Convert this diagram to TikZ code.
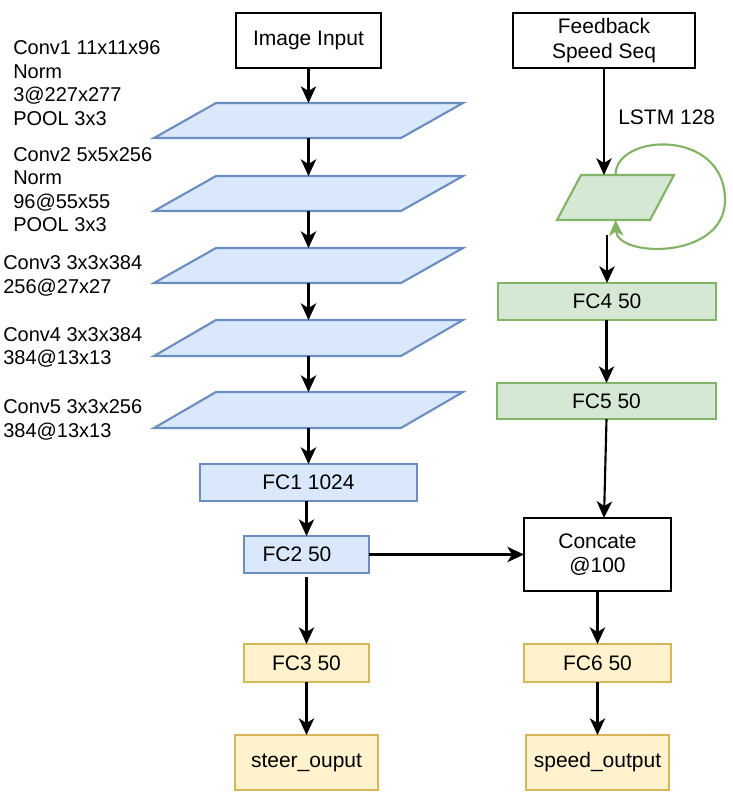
\documentclass[tikz,border=0pt]{standalone}
\usepackage{fontspec}
\setmainfont{Liberation Sans}
\usetikzlibrary{arrows.meta,calc}
\definecolor{bluefill}{HTML}{DAE8FC}
\definecolor{bluedraw}{HTML}{6C8EBF}
\definecolor{greenfill}{HTML}{D5E8D4}
\definecolor{greendraw}{HTML}{82B366}
\definecolor{yellowfill}{HTML}{FFF2CC}
\definecolor{yellowdraw}{HTML}{D6B656}
\newdimen\pxu
\pxu=0.75pt
\begin{document}
\begin{tikzpicture}[x=0.75pt,y=-0.75pt,
  basebox/.style={rectangle, inner sep=0pt, outer sep=0pt, line width=1.6pt, align=center,
    font=\fontsize{15.75}{18.5}\selectfont},
  plainbox/.style={basebox, draw=black, fill=white},
  bluebox/.style={basebox, draw=bluedraw, fill=bluefill},
  greenbox/.style={basebox, draw=greendraw, fill=greenfill},
  yellowbox/.style={basebox, draw=yellowdraw, fill=yellowfill},
  slot/.style={rectangle, inner sep=0pt, outer sep=0pt},
  bluepara/.style={draw=bluedraw, fill=bluefill, line width=1.6pt, line join=miter},
  greenpara/.style={draw=greendraw, fill=greenfill, line width=1.6pt, line join=miter},
  sidelabel/.style={anchor=west, inner sep=0pt, align=left, font=\fontsize{15}{17.6}\selectfont},
  arr/.style={draw=black, line width=1.6pt, -{Stealth[length=12.5pt, width=11.5pt, inset=3.5pt]}},
  looparr/.style={draw=greendraw, line width=1.6pt, -{Stealth[length=12pt, width=11pt, inset=3.5pt]}}
]
\useasboundingbox (0,0) rectangle (732,796);

% ---------- left column ----------
\node[plainbox, minimum width=145\pxu, minimum height=55\pxu] (img) at (308.5,40.5) {Image Input};

\node[slot, minimum width=309\pxu, minimum height=35\pxu] (p1) at (308.5,120.5) {};
\node[slot, minimum width=309\pxu, minimum height=35\pxu] (p2) at (308.5,193.5) {};
\node[slot, minimum width=309\pxu, minimum height=35\pxu] (p3) at (308.5,265.5) {};
\node[slot, minimum width=309\pxu, minimum height=36\pxu] (p4) at (308.5,338) {};
\node[slot, minimum width=309\pxu, minimum height=36\pxu] (p5) at (308.5,410) {};
\foreach \p in {p1,p2,p3,p4,p5}{
  \draw[bluepara] (\p.south west) -- ($(\p.north west)+(62,0)$) -- (\p.north east)
    -- ($(\p.south east)+(-62,0)$) -- cycle;
}

\node[bluebox, minimum width=217\pxu, minimum height=37\pxu] (fc1) at (308.5,482.5) {FC1 1024};
\node[bluebox, minimum width=125\pxu, minimum height=37\pxu] (fc2) at (306.5,554.5) {\kern-19\pxu FC2 50};
\node[yellowbox, minimum width=125\pxu, minimum height=38\pxu] (fc3) at (306.5,663) {FC3 50};
\node[yellowbox, minimum width=143\pxu, minimum height=55\pxu] (steer) at (306.5,762.5) {steer\_ouput};

% side labels
\node[sidelabel] (l1) at (13,83) {Conv1 11x11x96\\Norm\\3@227x277\\POOL 3x3};
\node[sidelabel] (l2) at (13,189.5) {Conv2 5x5x256\\Norm\\96@55x55\\POOL 3x3};
\node[sidelabel] (l3) at (3,276) {Conv3 3x3x384\\256@27x27};
\node[sidelabel] (l4) at (3,347.5) {Conv4 3x3x384\\384@13x13};
\node[sidelabel] (l5) at (3,420) {Conv5 3x3x256\\384@13x13};

% ---------- right column ----------
\node[plainbox, minimum width=182\pxu, minimum height=55\pxu] (fb) at (604,40.5) {Feedback\\Speed Seq};
\node[slot, minimum width=117\pxu, minimum height=45\pxu] (lstm) at (615.5,197.5) {};
\draw[greenpara] (lstm.south west) -- ($(lstm.north west)+(24,0)$) -- (lstm.north east)
  -- ($(lstm.south east)+(-24,0)$) -- cycle;
\node[anchor=west, inner sep=0pt, font=\fontsize{15.75}{18.5}\selectfont] (lstmlbl) at (618,117) {LSTM 128};

\node[greenbox, minimum width=218\pxu, minimum height=37\pxu] (fc4) at (607,301.5) {FC4 50};
\node[greenbox, minimum width=219\pxu, minimum height=36\pxu] (fc5) at (606.5,401) {FC5 50};
\node[plainbox, minimum width=147\pxu, minimum height=73\pxu] (cat) at (597.5,554.5) {Concate\\@100};
\node[yellowbox, minimum width=147\pxu, minimum height=38\pxu] (fc6) at (597.5,663) {FC6 50};
\node[yellowbox, minimum width=143\pxu, minimum height=55\pxu] (speed) at (597.5,762.5) {speed\_output};

% ---------- connectors ----------
\draw[arr] (img.south) -- (p1.north);
\draw[arr] (p1.south) -- (p2.north);
\draw[arr] (p2.south) -- (p3.north);
\draw[arr] (p3.south) -- (p4.north);
\draw[arr] (p4.south) -- (p5.north);
\draw[arr] (p5.south) -- (fc1.north);
\draw[arr] (fc1.south -| fc2.north) -- (fc2.north);
\draw[arr] ([yshift=-3pt]fc2.south) -- (fc3.north);
\draw[arr] (fc3.south) -- (steer.north);

\draw[arr] (fb.south) -- (fb.south |- lstm.north);
\draw[arr] ([yshift=-11.25pt]lstm.south -| fc4.north) -- (fc4.north);
\draw[arr] (fc4.south -| fc5.north) -- (fc5.north);
\draw[arr] (fc5.south) -- ($(cat.north)+(6.5,0)$);
\draw[arr] (fc2.east) -- (fc2.east -| cat.west);
\draw[arr] (cat.south) -- (fc6.north);
\draw[arr] (fc6.south) -- (speed.north);

\draw[looparr] (lstm.north) .. controls (615.5,133) and (725,128) .. (725,200)
  .. controls (725,260) and (617,258) .. (lstm.south);
\end{tikzpicture}
\end{document}
